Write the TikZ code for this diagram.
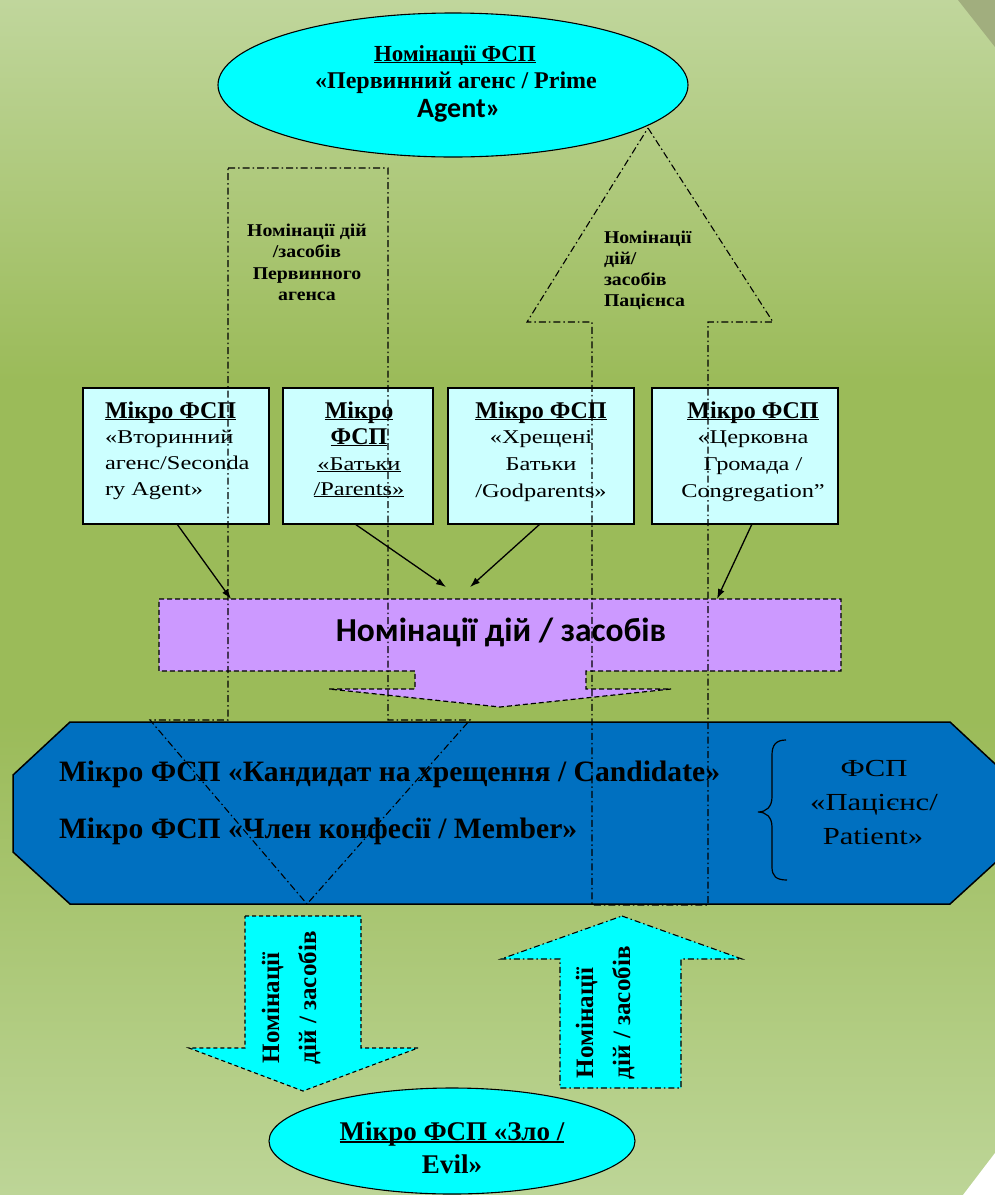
\documentclass[tikz,border=0pt]{standalone}
\usepackage{fontspec}
\setmainfont{Liberation Serif}
\newfontfamily\wideserif{Liberation Serif}[FakeStretch=1.25]
\newfontfamily\semiwide{Liberation Serif}[FakeStretch=1.1]
\newfontfamily\calib{Carlito}
\usetikzlibrary{arrows.meta,shapes.geometric}

% underline kept close to the baseline, as in the slide
\newsavebox\ulbox
\newcommand\ulin[1]{\sbox\ulbox{#1}\rlap{\rule[-0.1em]{\wd\ulbox}{0.06em}}\usebox\ulbox}
\newcommand\sz[1]{\fontsize{#1}{#1}\selectfont}

\definecolor{bgtop}{HTML}{C0D69C}
\definecolor{bgmid}{HTML}{9BBB59}
\definecolor{bgbot}{HTML}{BDD597}
\definecolor{aqua}{HTML}{00FFFF}
\definecolor{paleaqua}{HTML}{CCFFFF}
\definecolor{lilac}{HTML}{CC99FF}
\definecolor{deepblue}{HTML}{0070C0}
\definecolor{curl}{HTML}{A1AE7E}

\tikzset{
  every node/.style={inner sep=0pt, outer sep=0pt},
  oval/.style={ellipse, draw=black, line width=1.1pt, fill=aqua},
  mbox/.style={rectangle, draw=black, line width=1.3pt, fill=paleaqua, anchor=north west, minimum height=136},
  ddline/.style={draw=black, line width=1.1pt, dash pattern=on 7pt off 3pt on 1.5pt off 3pt},
  lilacshape/.style={fill=lilac, draw=black, line width=1.2pt, dash pattern=on 5pt off 3pt},
  octa/.style={fill=deepblue, draw=black, line width=1.5pt, line join=miter},
  downarr/.style={fill=aqua, draw=black, line width=1.1pt, dash pattern=on 4pt off 3pt},
  uparr/.style={fill=aqua, draw=black, line width=1.1pt, dash pattern=on 6pt off 3pt on 1.5pt off 3pt},
  conn/.style={draw=black, line width=1.3pt, -{Latex[length=10pt,width=7pt]}},
  tb/.style={font=\sz{24}\bfseries},
  tw/.style={font=\sz{19.5}\wideserif},
  tl/.style={font=\sz{18}\semiwide\bfseries},
  tr/.style={font=\sz{25}\bfseries, rotate=90, anchor=base west},
}

\begin{document}
\begin{tikzpicture}[x=1pt,y=-1pt]
\useasboundingbox (0,0) rectangle (995,1195);
\begin{scope}
\clip (0,0) rectangle (995,1195);

% background
\shade[top color=bgtop, bottom color=bgmid] (0,0) rectangle (995,381);
\fill[bgmid] (0,380) rectangle (995,721);
\shade[top color=bgmid, bottom color=bgbot] (0,720) rectangle (995,1195);

% prime agent
\node[oval, minimum width=470, minimum height=144] (pa) at (453,85) {};
\node[anchor=base, font=\sz{23}\bfseries] (pa1) at (455,61) {\ulin{Номінації ФСП}};
\node[anchor=base, font=\sz{24}\bfseries] (pa2) at (456,88) {«Первинний агенс / Prime};
\node[anchor=base, font=\sz{28}\calib\bfseries] (pa3) at (459,117) {Agent»};

% micro participant boxes
\node[mbox, minimum width=186] (b1) at (83,388) {};
\node[mbox, minimum width=150] (b2) at (283,388) {};
\node[mbox, minimum width=186] (b3) at (448,388) {};
\node[mbox, minimum width=186] (b4) at (652,388) {};

\node[tb, anchor=base west] (b1a) at (105,418) {\ulin{Мікро ФСП}};
\node[tw, anchor=base west] (b1b) at (105,443) {«Вторинний};
\node[tw, anchor=base west] (b1c) at (105,469) {агенс/Seconda};
\node[tw, anchor=base west] (b1d) at (105,495) {ry Agent»};

\node[tb, anchor=base] (b2a) at (359,418) {\ulin{Мікро}};
\node[tb, anchor=base] (b2b) at (359,444) {\ulin{ФСП}};
\node[tw, anchor=base] (b2c) at (359,470) {\ulin{«Батьки}};
\node[tw, anchor=base] (b2d) at (359,495) {\ulin{/Parents»}};

\node[tb, anchor=base] (b3a) at (541,418) {\ulin{Мікро ФСП}};
\node[tw, anchor=base] (b3b) at (541,443) {«Хрещені};
\node[tw, anchor=base] (b3c) at (541,470) {Батьки};
\node[tw, anchor=base] (b3d) at (541,497) {/Godparents»};

\node[tb, anchor=base] (b4a) at (753,418) {\ulin{Мікро ФСП}};
\node[tw, anchor=base] (b4b) at (753,443) {«Церковна};
\node[tw, anchor=base] (b4c) at (753,470) {Громада /};
\node[tw, anchor=base] (b4d) at (753,497) {Congregation”};

% actions / means callout
\node[minimum width=682, minimum height=72] (pv) at (500,635) {};
\path[lilacshape] (159,599) -- (841,599) -- (841,671) -- (586,671) -- (586,689) -- (671,689)
  -- (500,707) -- (329,689) -- (415,689) -- (415,671) -- (159,671) -- cycle;
\node[anchor=base, font=\sz{33.5}\calib\bfseries] (pvt) at (501,641) {Номінації дій / засобів};

\draw[conn] ([xshift=1]b1.south) -- ([xshift=72]pv.north west);
\draw[conn] ([xshift=-3]b2.south) -- ([xshift=287,yshift=12]pv.north west);
\draw[conn] ([xshift=-1]b3.south) -- ([xshift=311,yshift=12]pv.north west);
\draw[conn] ([xshift=7]b4.south) -- ([xshift=558]pv.north west);

% patient block
\path[octa] (70,722) -- (950,722) -- (1007,775) -- (1007,852) -- (950,904) -- (70,904)
  -- (13,852) -- (13,775) -- cycle;
\node[anchor=base west, font=\sz{29.6}\bfseries] (c1) at (59,781) {Мікро ФСП «Кандидат на хрещення / Candidate»};
\node[anchor=base west, font=\sz{29.6}\bfseries] (c2) at (59,838) {Мікро ФСП «Член конфесії / Member»};

\draw[line width=1.2pt] (786,740) .. controls (776,740) and (772,745) .. (772,755) -- (772,797)
  .. controls (772,807) and (766,812) .. (758,812) .. controls (766,812) and (772,817) .. (772,827)
  -- (772,867) .. controls (772,876) and (776,880) .. (787,880);
\node[anchor=base, font=\sz{24.5}\wideserif] (pt1) at (874,776) {ФСП};
\node[anchor=base, font=\sz{24.5}\wideserif] (pt2) at (874,810) {«Пацієнс/};
\node[anchor=base, font=\sz{24.5}\wideserif] (pt3) at (873,844) {Patient»};

% prime agent's actions (down) and patient's actions (up)
\path[ddline] (228,168) -- (388,168) -- (388,720) -- (470,720) -- (307,904) -- (150,720)
  -- (228,720) -- cycle;
\node[tl, anchor=base] (l1) at (307,236) {Номінації дій};
\node[tl, anchor=base] (l2) at (307,257) {/засобів};
\node[tl, anchor=base] (l3) at (307,279) {Первинного};
\node[tl, anchor=base] (l4) at (307,300) {агенса};

\path[ddline] (648,128) -- (773,322) -- (708,322) -- (708,905) -- (592,905) -- (592,322)
  -- (527,322) -- cycle;
\node[tl, anchor=base west] (r1) at (604,243) {Номінації};
\node[tl, anchor=base west] (r2) at (604,264) {дій/};
\node[tl, anchor=base west] (r3) at (604,285) {засобів};
\node[tl, anchor=base west] (r4) at (604,306) {Пацієнса};

% evil
\path[downarr] (245,916) -- (361,916) -- (361,1048) -- (418,1048) -- (303,1091) -- (189,1048)
  -- (245,1048) -- cycle;
\node[tr] (d1) at (279,1063) {Номінації};
\node[tr] (d2) at (316,1064) {дій / засобів};

\path[uparr] (622,916) -- (742,959) -- (681,959) -- (681,1088) -- (560,1088) -- (560,959)
  -- (501,959) -- cycle;
\node[tr] (u1) at (593,1078) {Номінації};
\node[tr] (u2) at (630,1079) {дій / засобів};

\node[oval, minimum width=366, minimum height=106] (ev) at (452,1141) {};
\node[anchor=base, font=\sz{27}\bfseries] (ev1) at (452,1140) {\ulin{Мікро ФСП «Зло /}};
\node[anchor=base, font=\sz{27}\bfseries] (ev2) at (452,1173) {Evil»};

% page corners
\fill[curl] (958,0) -- (995,0) -- (995,47) -- cycle;
\fill[white] (963,1195) -- (995,1195) -- (995,1153) -- cycle;
\end{scope}
\end{tikzpicture}
\end{document}
